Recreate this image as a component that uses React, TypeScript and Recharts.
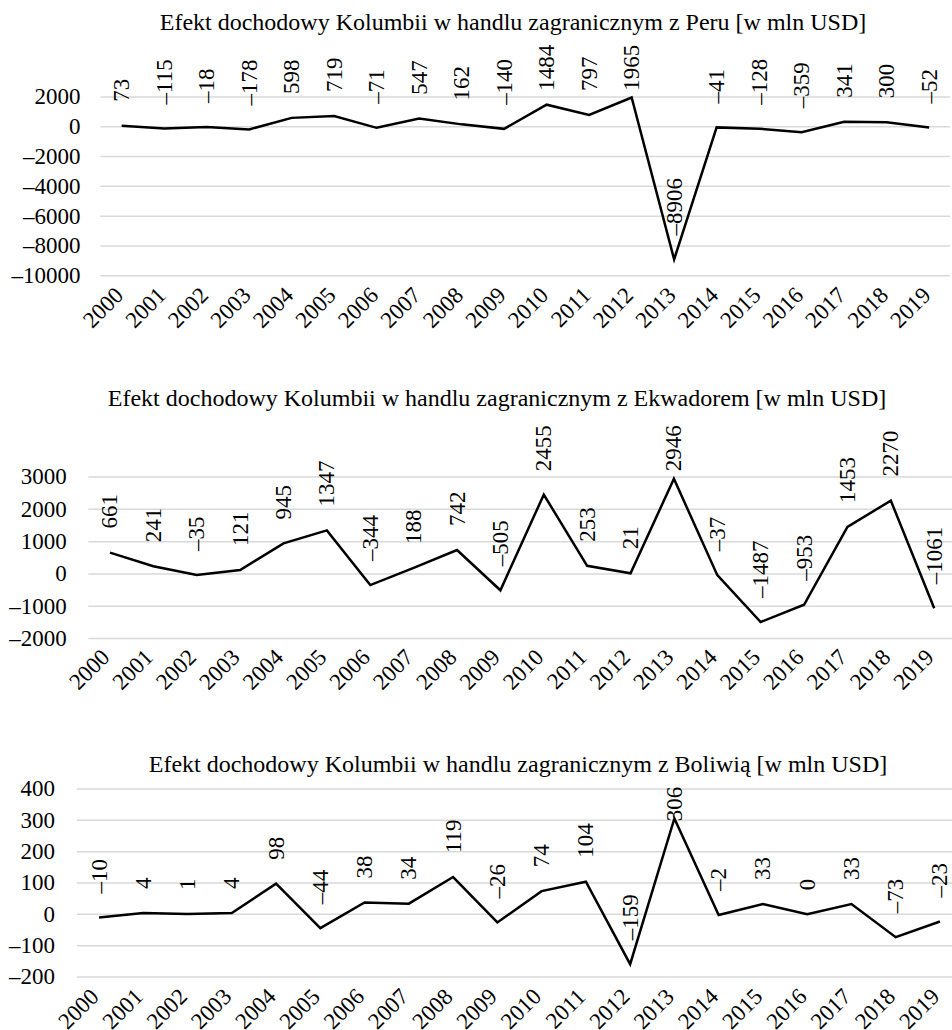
import React from 'react';
import { LineChart, Line, XAxis, YAxis, CartesianGrid } from 'recharts';

const years = ['2000','2001','2002','2003','2004','2005','2006','2007','2008','2009','2010','2011','2012','2013','2014','2015','2016','2017','2018','2019'];
const peruValues = [73, -115, -18, -178, 598, 719, -71, 547, 162, -140, 1484, 797, 1965, -8906, -41, -128, -359, 341, 300, -52];
const ecuadorValues = [661, 241, -35, 121, 945, 1347, -344, 188, 742, -505, 2455, 253, 21, 2946, -37, -1487, -953, 1453, 2270, -1061];
const boliviaValues = [-10, 4, 1, 4, 98, -44, 38, 34, 119, -26, 74, 104, -159, 306, -2, 33, 0, 33, -73, -23];
const peruTicks = [-10000, -8000, -6000, -4000, -2000, 0, 2000];
const ecuadorTicks = [-2000, -1000, 0, 1000, 2000, 3000];
const boliviaTicks = [-200, -100, 0, 100, 200, 300, 400];
const peruTitle = 'Efekt dochodowy Kolumbii w handlu zagranicznym z Peru [w mln USD]';
const ecuadorTitle = 'Efekt dochodowy Kolumbii w handlu zagranicznym z Ekwadorem [w mln USD]';
const boliviaTitle = 'Efekt dochodowy Kolumbii w handlu zagranicznym z Boliwią [w mln USD]';

const FONT = 'Liberation Serif, Times New Roman, serif';
const FS = 23;
const TITLE_FS = 24;
const fmt = (v: number) => (v < 0 ? '\u2013' + Math.abs(v) : String(v));

type Cfg = {
  values: number[];
  ticks: number[];
  title: string;
  titleX: number;
  titleY: number;
  plotLeft: number;
  plotRight: number;
  plotTop: number;
  plotBottom: number;
  labelTop: number;
  tickDx: number;
  tickDy: number;
  yMargin: number;
};

const charts: Cfg[] = [
  { values: peruValues, ticks: peruTicks, title: peruTitle, titleX: 513, titleY: 30, plotLeft: 100.4, plotRight: 950.4, plotTop: 97.3, plotBottom: 276, labelTop: 45, tickDx: 3, tickDy: 21, yMargin: 20 },
  { values: ecuadorValues, ticks: ecuadorTicks, title: ecuadorTitle, titleX: 497, titleY: 406, plotLeft: 88.3, plotRight: 955.9, plotTop: 476.7, plotBottom: 638.3, labelTop: 425, tickDx: 1, tickDy: 20, yMargin: 21.5 },
  { values: boliviaValues, ticks: boliviaTicks, title: boliviaTitle, titleX: 518, titleY: 772, plotLeft: 76.9, plotRight: 962.1, plotTop: 789.3, plotBottom: 977.3, labelTop: 787, tickDx: 1, tickDy: 21, yMargin: 22 },
];

const TOP_PAD = 80;
const X_H = 80;

const XTick = (dx: number, dy: number) => (props: any) => {
  const { x, y, payload } = props;
  const bx = x + dx;
  const by = y + dy;
  return (
    <text x={bx} y={by} transform={`rotate(-45 ${bx} ${by})`} textAnchor="end" fontSize={FS} fontFamily={FONT} fill="#000">
      {payload.value}
    </text>
  );
};

const YTick = (props: any) => {
  const { x, y, payload } = props;
  return (
    <text x={x} y={y} textAnchor="end" dominantBaseline="central" fontSize={FS} fontFamily={FONT} fill="#000">
      {fmt(Number(payload.value))}
    </text>
  );
};

const makeLabel = (values: number[], minTop: number) => (props: any) => {
  const { x, y, index } = props;
  const v = props.value !== undefined ? Number(props.value) : values[index];
  const text = fmt(v);
  const len = text.length * FS * 0.5;
  let bottom = y - 24;
  if (bottom - len < minTop) bottom = minTop + len;
  return (
    <text key={`l-${index}`} x={x} y={bottom} transform={`rotate(-90 ${x} ${bottom})`} textAnchor="start" dominantBaseline="central" fontSize={FS} fontFamily={FONT} fill="#000">
      {text}
    </text>
  );
};

function Chart({ cfg }: { cfg: Cfg }) {
  const data = years.map((y, i) => ({ year: y, value: cfg.values[i] }));
  const top = cfg.plotTop - TOP_PAD;
  const plotH = cfg.plotBottom - cfg.plotTop;
  const height = TOP_PAD + plotH + X_H;
  const width = cfg.plotRight;
  const min = cfg.ticks[0];
  const max = cfg.ticks[cfg.ticks.length - 1];
  return (
    <div style={{ position: 'absolute', left: 0, top, width, height }}>
      <LineChart width={width} height={height} data={data} margin={{ top: TOP_PAD, right: 0, left: 0, bottom: 0 }}>
        <CartesianGrid vertical={false} stroke="#d9d9d9" strokeWidth={1.5} />
        <XAxis
          dataKey="year"
          scale="band"
          interval={0}
          axisLine={false}
          tickLine={false}
          tickSize={0}
          tickMargin={0}
          height={X_H}
          tick={XTick(cfg.tickDx, cfg.tickDy)}
        />
        <YAxis
          type="number"
          domain={[min, max]}
          ticks={cfg.ticks}
          interval={0}
          width={cfg.plotLeft}
          axisLine={false}
          tickLine={false}
          tickSize={0}
          tickMargin={cfg.yMargin}
          tick={YTick}
        />
        <Line
          type="linear"
          dataKey="value"
          stroke="#000"
          strokeWidth={2.5}
          dot={false}
          isAnimationActive={false}
          label={makeLabel(cfg.values, cfg.labelTop - top)}
        />
      </LineChart>
    </div>
  );
}

export default function App() {
  return (
    <div style={{ position: 'absolute', left: 0, top: 0, width: 952, height: 1030, overflow: 'hidden', background: '#fff' }}>
      {charts.map((c, i) => (
        <Chart key={i} cfg={c} />
      ))}
      <svg width={952} height={1030} style={{ position: 'absolute', left: 0, top: 0, pointerEvents: 'none' }}>
        {charts.map((c, i) => (
          <text key={i} x={c.titleX} y={c.titleY} textAnchor="middle" fontSize={TITLE_FS} fontFamily={FONT} fill="#000">
            {c.title}
          </text>
        ))}
      </svg>
    </div>
  );
}
